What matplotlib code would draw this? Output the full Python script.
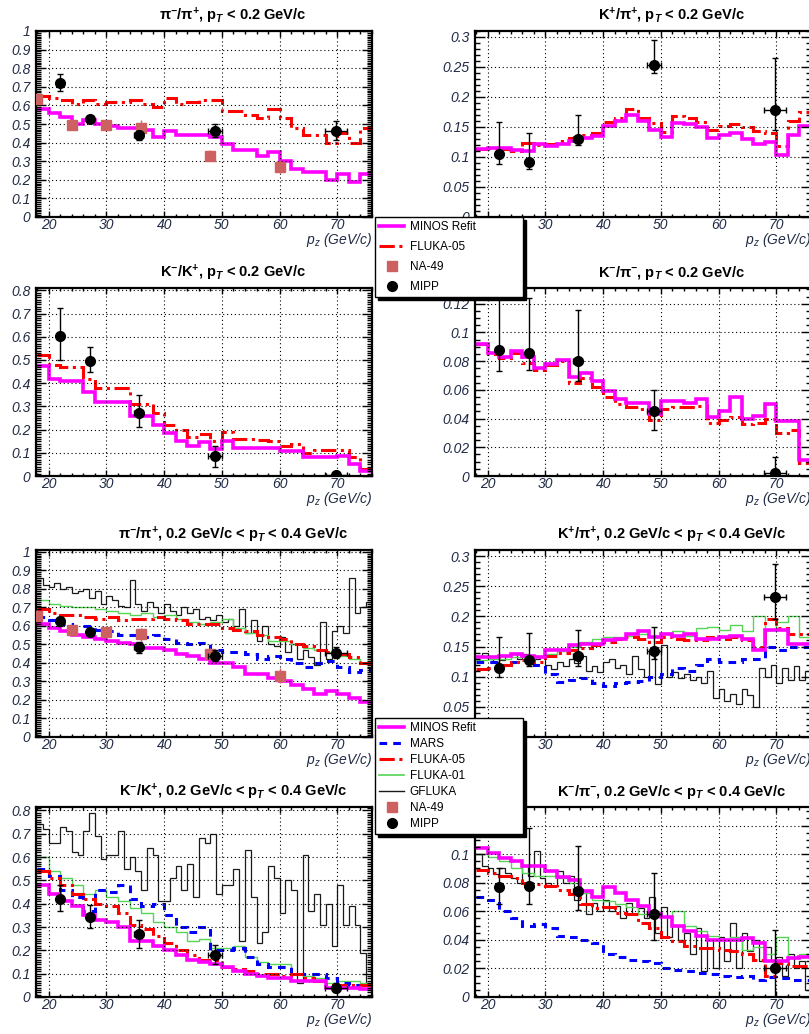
import numpy as np
import matplotlib
matplotlib.use('Agg')
import matplotlib.pyplot as plt
from matplotlib.ticker import MultipleLocator, AutoMinorLocator, FuncFormatter
from matplotlib.lines import Line2D

plt.rcParams['font.family'] = ['Liberation Sans', 'DejaVu Sans']
plt.rcParams['font.style'] = 'italic'
plt.rcParams['mathtext.fontset'] = 'custom'
plt.rcParams['mathtext.rm'] = 'Liberation Sans'
plt.rcParams['mathtext.it'] = 'Liberation Sans:italic'
plt.rcParams['mathtext.bf'] = 'Liberation Sans:bold'

# bin edges: 2 GeV/c bins for the fits, 1 GeV/c for GFLUKA
edges2 = np.arange(18, 78, 2)
edges1 = np.arange(18, 77, 1)

mipp_x = [22.0, 27.2, 35.6, 48.8, 69.7]
mipp_xerr = [0.4, 0.5, 0.8, 1.2, 1.9]
na49_x = [18, 24, 30, 36, 48, 60]

# ---- pi-/pi+, pT < 0.2
pipi_lo_minos = [0.58, 0.56, 0.54, 0.50, 0.52, 0.50, 0.49, 0.48, 0.48, 0.47,
                 0.43, 0.46, 0.44, 0.44, 0.44, 0.43, 0.39, 0.36, 0.36, 0.33,
                 0.35, 0.30, 0.26, 0.24, 0.24, 0.20, 0.23, 0.19, 0.23]
pipi_lo_fluka05 = [0.65, 0.64, 0.63, 0.61, 0.63, 0.61, 0.62, 0.62, 0.63, 0.61,
                   0.59, 0.64, 0.61, 0.62, 0.63, 0.63, 0.57, 0.57, 0.55, 0.53,
                   0.58, 0.53, 0.48, 0.44, 0.44, 0.40, 0.45, 0.40, 0.48]
pipi_lo_na49 = [0.635, 0.495, 0.495, 0.48, 0.33, 0.27]
pipi_lo_na49_err = [0.02, 0.015, 0.015, 0.04, 0.03, 0.035]
pipi_lo_mipp = [0.72, 0.525, 0.44, 0.46, 0.465]
pipi_lo_mipp_lo = [0.04, 0.02, 0.025, 0.03, 0.05]
pipi_lo_mipp_hi = [0.05, 0.02, 0.02, 0.04, 0.05]

# ---- K+/pi+, pT < 0.2
kpi_lo_minos = [0.113, 0.115, 0.115, 0.112, 0.110, 0.122, 0.118, 0.122, 0.127, 0.132,
                0.135, 0.152, 0.160, 0.170, 0.160, 0.145, 0.133, 0.157, 0.155, 0.150,
                0.132, 0.137, 0.140, 0.130, 0.122, 0.125, 0.103, 0.137, 0.152]
kpi_lo_fluka05 = [0.113, 0.115, 0.113, 0.110, 0.124, 0.120, 0.122, 0.127, 0.132, 0.137,
                  0.140, 0.158, 0.165, 0.180, 0.165, 0.157, 0.142, 0.168, 0.165, 0.158,
                  0.145, 0.152, 0.155, 0.150, 0.143, 0.140, 0.118, 0.160, 0.175]
kpi_lo_mipp = [0.105, 0.092, 0.130, 0.253, 0.178]
kpi_lo_mipp_lo = [0.017, 0.012, 0.010, 0.013, 0.033]
kpi_lo_mipp_hi = [0.053, 0.048, 0.040, 0.042, 0.087]

# ---- K-/K+, pT < 0.2
kk_lo_minos = [0.473, 0.42, 0.41, 0.41, 0.36, 0.32, 0.32, 0.32, 0.26, 0.26,
               0.22, 0.185, 0.15, 0.13, 0.145, 0.115, 0.15, 0.12, 0.12, 0.12,
               0.12, 0.108, 0.108, 0.08, 0.08, 0.08, 0.085, 0.05, 0.02]
kk_lo_fluka05 = [0.52, 0.48, 0.47, 0.47, 0.42, 0.38, 0.38, 0.38, 0.31, 0.31,
                 0.27, 0.22, 0.20, 0.17, 0.18, 0.15, 0.19, 0.16, 0.16, 0.155,
                 0.15, 0.13, 0.14, 0.10, 0.11, 0.11, 0.11, 0.08, 0.03]
kk_lo_mipp = [0.605, 0.495, 0.27, 0.085, 0.005]
kk_lo_mipp_lo = [0.105, 0.045, 0.06, 0.045, 0.005]
kk_lo_mipp_hi = [0.12, 0.06, 0.08, 0.045, 0.01]

# ---- K-/pi-, pT < 0.2
kmpi_lo_minos = [0.092, 0.086, 0.083, 0.087, 0.083, 0.075, 0.078, 0.081, 0.069, 0.072,
                 0.066, 0.059, 0.054, 0.051, 0.051, 0.043, 0.052, 0.052, 0.051, 0.054,
                 0.041, 0.045, 0.055, 0.040, 0.042, 0.050, 0.038, 0.038, 0.011]
kmpi_lo_fluka05 = [0.092, 0.085, 0.082, 0.086, 0.079, 0.074, 0.077, 0.080, 0.065, 0.068,
                   0.062, 0.055, 0.050, 0.048, 0.047, 0.039, 0.047, 0.048, 0.048, 0.049,
                   0.037, 0.039, 0.041, 0.036, 0.037, 0.040, 0.030, 0.032, 0.009]
kmpi_lo_mipp = [0.088, 0.086, 0.080, 0.045, 0.002]
kmpi_lo_mipp_lo = [0.015, 0.012, 0.014, 0.013, 0.002]
kmpi_lo_mipp_hi = [0.037, 0.038, 0.036, 0.015, 0.011]

# ---- pi-/pi+, 0.2 < pT < 0.4
pipi_hi_minos = [0.61, 0.59, 0.57, 0.55, 0.54, 0.53, 0.52, 0.51, 0.50, 0.48,
                 0.48, 0.47, 0.45, 0.44, 0.42, 0.40, 0.40, 0.38, 0.34, 0.34,
                 0.32, 0.30, 0.28, 0.26, 0.23, 0.25, 0.23, 0.21, 0.19]
pipi_hi_fluka05 = [0.69, 0.67, 0.66, 0.66, 0.65, 0.64, 0.65, 0.63, 0.64, 0.64,
                   0.65, 0.64, 0.63, 0.61, 0.61, 0.61, 0.59, 0.58, 0.57, 0.55,
                   0.54, 0.53, 0.50, 0.49, 0.47, 0.46, 0.45, 0.43, 0.40]
pipi_hi_mars = [0.65, 0.63, 0.61, 0.60, 0.60, 0.58, 0.57, 0.55, 0.55, 0.54,
                0.55, 0.53, 0.51, 0.50, 0.51, 0.47, 0.46, 0.46, 0.45, 0.42,
                0.44, 0.42, 0.40, 0.38, 0.40, 0.41, 0.38, 0.35, 0.36]
pipi_hi_fluka01 = [0.74, 0.72, 0.71, 0.70, 0.70, 0.69, 0.68, 0.67, 0.66, 0.67,
                   0.65, 0.66, 0.64, 0.62, 0.61, 0.62, 0.64, 0.59, 0.56, 0.55,
                   0.52, 0.52, 0.50, 0.48, 0.47, 0.46, 0.44, 0.42, 0.40]
pipi_hi_gfluka = [0.86, 0.82, 0.81, 0.83, 0.80, 0.81, 0.78, 0.79, 0.80, 0.75,
                  0.79, 0.72, 0.76, 0.74, 0.71, 0.70, 0.85, 0.72, 0.68, 0.73,
                  0.70, 0.67, 0.72, 0.68, 0.66, 0.70, 0.67, 0.69, 0.64, 0.65,
                  0.63, 0.66, 0.62, 0.64, 0.60, 0.69, 0.56, 0.63, 0.52, 0.60,
                  0.50, 0.49, 0.54, 0.46, 0.50, 0.42, 0.47, 0.43, 0.39, 0.62,
                  0.42, 0.57, 0.60, 0.56, 0.86, 0.67, 0.70, 0.73]
pipi_hi_na49 = [0.655, 0.58, 0.565, 0.555, 0.45, 0.33]
pipi_hi_na49_err = [0.02, 0.015, 0.015, 0.035, 0.03, 0.04]
pipi_hi_mipp = [0.625, 0.565, 0.485, 0.44, 0.455]
pipi_hi_mipp_lo = [0.025, 0.02, 0.03, 0.03, 0.03]
pipi_hi_mipp_hi = [0.025, 0.02, 0.03, 0.03, 0.03]

# ---- K+/pi+, 0.2 < pT < 0.4
kpi_hi_minos = [0.133, 0.133, 0.135, 0.137, 0.135, 0.133, 0.145, 0.145, 0.152, 0.155,
                0.155, 0.160, 0.163, 0.170, 0.175, 0.165, 0.170, 0.168, 0.170, 0.162,
                0.162, 0.165, 0.168, 0.162, 0.145, 0.178, 0.178, 0.155, 0.155]
kpi_hi_fluka05 = [0.112, 0.115, 0.120, 0.125, 0.128, 0.125, 0.135, 0.140, 0.145, 0.148,
                  0.152, 0.158, 0.162, 0.165, 0.162, 0.158, 0.165, 0.162, 0.160, 0.160,
                  0.165, 0.162, 0.165, 0.160, 0.150, 0.195, 0.180, 0.170, 0.170]
kpi_hi_mars = [0.125, 0.125, 0.120, 0.125, 0.128, 0.120, 0.105, 0.092, 0.095, 0.098,
               0.090, 0.085, 0.090, 0.092, 0.093, 0.100, 0.105, 0.115, 0.110, 0.120,
               0.130, 0.125, 0.125, 0.130, 0.130, 0.150, 0.145, 0.150, 0.150]
kpi_hi_fluka01 = [0.128, 0.130, 0.130, 0.132, 0.133, 0.135, 0.137, 0.142, 0.150, 0.158,
                  0.162, 0.165, 0.165, 0.168, 0.170, 0.168, 0.172, 0.175, 0.168, 0.180,
                  0.182, 0.178, 0.185, 0.175, 0.200, 0.178, 0.190, 0.200, 0.165]
kpi_hi_gfluka = [0.135, 0.140, 0.130, 0.125, 0.128, 0.135, 0.140, 0.130, 0.138, 0.125,
                 0.130, 0.135, 0.120, 0.112, 0.125, 0.118, 0.130, 0.122, 0.135, 0.110,
                 0.118, 0.108, 0.125, 0.130, 0.115, 0.120, 0.105, 0.135, 0.112, 0.100,
                 0.145, 0.088, 0.152, 0.100, 0.108, 0.098, 0.105, 0.095, 0.100, 0.090,
                 0.110, 0.065, 0.080, 0.060, 0.072, 0.055, 0.080, 0.070, 0.050, 0.115,
                 0.100, 0.120, 0.090, 0.115, 0.095, 0.118, 0.095, 0.110]
kpi_hi_mipp = [0.115, 0.128, 0.134, 0.143, 0.232]
kpi_hi_mipp_lo = [0.015, 0.010, 0.016, 0.013, 0.037]
kpi_hi_mipp_hi = [0.050, 0.045, 0.044, 0.040, 0.055]

# ---- K-/K+, 0.2 < pT < 0.4
kk_hi_minos = [0.48, 0.44, 0.41, 0.39, 0.35, 0.33, 0.32, 0.30, 0.24, 0.24,
               0.22, 0.20, 0.18, 0.16, 0.15, 0.14, 0.13, 0.11, 0.10, 0.09,
               0.08, 0.08, 0.07, 0.07, 0.07, 0.04, 0.04, 0.04, 0.035]
kk_hi_fluka05 = [0.54, 0.51, 0.48, 0.44, 0.42, 0.40, 0.39, 0.36, 0.31, 0.29,
                 0.26, 0.23, 0.20, 0.18, 0.16, 0.16, 0.13, 0.12, 0.11, 0.10,
                 0.10, 0.09, 0.10, 0.08, 0.07, 0.05, 0.05, 0.05, 0.05]
kk_hi_mars = [0.55, 0.52, 0.46, 0.43, 0.37, 0.46, 0.45, 0.48, 0.42, 0.39,
              0.40, 0.35, 0.30, 0.28, 0.30, 0.20, 0.20, 0.21, 0.17, 0.14,
              0.13, 0.13, 0.10, 0.10, 0.10, 0.08, 0.06, 0.05, 0.05]
kk_hi_fluka01 = [0.60, 0.54, 0.51, 0.48, 0.44, 0.46, 0.43, 0.41, 0.38, 0.36,
                 0.32, 0.30, 0.28, 0.24, 0.25, 0.21, 0.21, 0.22, 0.17, 0.15,
                 0.14, 0.14, 0.10, 0.09, 0.08, 0.06, 0.07, 0.07, 0.06]
kk_hi_gfluka = [0.74, 0.72, 0.66, 0.66, 0.73, 0.71, 0.62, 0.61, 0.71, 0.79,
                0.69, 0.59, 0.61, 0.61, 0.71, 0.55, 0.60, 0.54, 0.46, 0.64,
                0.61, 0.41, 0.41, 0.51, 0.56, 0.46, 0.57, 0.43, 0.68, 0.66,
                0.70, 0.44, 0.48, 0.48, 0.55, 0.24, 0.63, 0.43, 0.23, 0.28,
                0.56, 0.51, 0.36, 0.50, 0.46, 0.06, 0.61, 0.37, 0.44, 0.31,
                0.40, 0.22, 0.48, 0.31, 0.39, 0.31, 0.19, 0.06]
kk_hi_mipp = [0.42, 0.345, 0.27, 0.18, 0.04]
kk_hi_mipp_lo = [0.05, 0.05, 0.06, 0.04, 0.02]
kk_hi_mipp_hi = [0.06, 0.05, 0.06, 0.045, 0.02]

# ---- K-/pi-, 0.2 < pT < 0.4
kmpi_hi_minos = [0.104, 0.101, 0.097, 0.095, 0.092, 0.092, 0.088, 0.084, 0.082, 0.074,
                 0.070, 0.077, 0.073, 0.068, 0.064, 0.058, 0.056, 0.050, 0.046, 0.043,
                 0.040, 0.040, 0.040, 0.041, 0.038, 0.025, 0.025, 0.027, 0.028]
kmpi_hi_fluka05 = [0.089, 0.087, 0.085, 0.083, 0.080, 0.079, 0.078, 0.075, 0.072, 0.065,
                   0.062, 0.063, 0.059, 0.058, 0.052, 0.048, 0.042, 0.039, 0.036, 0.034,
                   0.034, 0.033, 0.032, 0.030, 0.026, 0.015, 0.024, 0.022, 0.022]
kmpi_hi_mars = [0.070, 0.068, 0.060, 0.055, 0.050, 0.051, 0.048, 0.043, 0.042, 0.040,
                0.038, 0.030, 0.028, 0.026, 0.025, 0.024, 0.020, 0.019, 0.018, 0.017,
                0.016, 0.015, 0.014, 0.015, 0.012, 0.014, 0.013, 0.012, 0.012]
kmpi_hi_fluka01 = [0.100, 0.098, 0.095, 0.090, 0.087, 0.085, 0.085, 0.083, 0.080, 0.073,
                   0.068, 0.067, 0.065, 0.063, 0.058, 0.058, 0.056, 0.060, 0.050, 0.046,
                   0.043, 0.040, 0.042, 0.033, 0.035, 0.030, 0.042, 0.028, 0.030]
kmpi_hi_gfluka = [0.100, 0.092, 0.090, 0.086, 0.090, 0.087, 0.083, 0.080, 0.092, 0.085,
                  0.102, 0.083, 0.080, 0.078, 0.088, 0.080, 0.085, 0.068, 0.075, 0.058,
                  0.066, 0.060, 0.068, 0.060, 0.064, 0.055, 0.066, 0.058, 0.062, 0.055,
                  0.070, 0.045, 0.063, 0.042, 0.050, 0.040, 0.045, 0.030, 0.048, 0.018,
                  0.040, 0.020, 0.042, 0.025, 0.052, 0.020, 0.045, 0.032, 0.040, 0.025,
                  0.035, 0.025, 0.028, 0.015, 0.030, 0.020, 0.025, 0.005]
kmpi_hi_mipp = [0.077, 0.078, 0.074, 0.058, 0.020]
kmpi_hi_mipp_lo = [0.012, 0.013, 0.013, 0.018, 0.020]
kmpi_hi_mipp_hi = [0.013, 0.040, 0.032, 0.029, 0.027]

MAGENTA = '#ff00ff'
RED = '#ff0000'
BLUE = '#0000ff'
GREEN = '#55d455'
NA49_C = '#cd6060'
TICK_C = '#1f2a44'

W, H = 809, 1034
fig = plt.figure(figsize=(W / 100, H / 100), dpi=100)

cols = [(36, 372), (475, 811)]
rows = [(31, 217), (288, 476), (550, 737), (807, 997)]


def make_ax(col, row):
    l, r = cols[col]
    t, b = rows[row]
    ax = fig.add_axes([l / W, 1 - b / H, (r - l) / W, (b - t) / H])
    return ax


def style(ax, ytop, ystep, nminor, title):
    ax.set_xlim(17.8, 76.0)
    ax.set_ylim(0, ytop)
    ax.xaxis.set_major_locator(MultipleLocator(10))
    ax.xaxis.set_minor_locator(MultipleLocator(2))
    ax.yaxis.set_major_locator(MultipleLocator(ystep))
    ax.yaxis.set_minor_locator(AutoMinorLocator(nminor))
    ax.yaxis.set_major_formatter(FuncFormatter(lambda v, p: '%g' % round(v, 4)))
    ax.tick_params(which='both', direction='in', top=True, right=True,
                   labelsize=10, labelcolor=TICK_C, width=1)
    ax.tick_params(axis='x', which='major', length=4, pad=1)
    ax.tick_params(axis='x', which='minor', length=2)
    ax.tick_params(axis='y', which='major', length=7, pad=4)
    ax.tick_params(axis='y', which='minor', length=3.5)
    ax.grid(True, which='major', color='black', linestyle=(0, (1, 2.5)), linewidth=0.8)
    for s in ax.spines.values():
        s.set_linewidth(1.6)
    ax.annotate(title, xy=(0.586, 1), xycoords='axes fraction', xytext=(0, 8),
                textcoords='offset points', ha='center', va='baseline',
                fontsize=10.5, weight='bold', style='normal')
    ax.annotate(r'$p_{z}$ (GeV/c)', xy=(1, 0), xycoords='axes fraction',
                xytext=(0, -19.5), textcoords='offset points', ha='right',
                va='baseline', fontsize=10, color=TICK_C)


def draw_models(ax, minos, fluka05, mars=None, fluka01=None, gfluka=None):
    if gfluka is not None:
        ax.stairs(gfluka, edges1, baseline=None, color='#1a1a1a', lw=0.9)
    if fluka01 is not None:
        ax.stairs(fluka01, edges2, baseline=None, color=GREEN, lw=1.0)
    if mars is not None:
        ax.stairs(mars, edges2, baseline=None, color=BLUE, lw=2.2, ls=(0, (2.5, 2)))
    ax.stairs(fluka05, edges2, baseline=None, color=RED, lw=2.2, ls=(0, (5, 1.5, 1, 1.5)))
    ax.stairs(minos, edges2, baseline=None, color=MAGENTA, lw=2.6)


def draw_na49(ax, y, err):
    ax.errorbar(na49_x, y, yerr=err, fmt='s', color=NA49_C, ms=7,
                elinewidth=1, capsize=0, zorder=4)


def draw_mipp(ax, y, lo, hi):
    ax.errorbar(mipp_x, y, yerr=[lo, hi], xerr=mipp_xerr, fmt='o', color='black',
                ms=7, elinewidth=1, capsize=2, zorder=5)


pip = r'π$^{\mathbf{-}}$/π$^{\mathbf{+}}$'
kpp = r'K$^{\mathbf{+}}$/π$^{\mathbf{+}}$'
kmk = r'K$^{\mathbf{-}}$/K$^{\mathbf{+}}$'
kmm = r'K$^{\mathbf{-}}$/π$^{\mathbf{-}}$'
lo_cut = r', p$_{\mathbf{T}}$ < 0.2 GeV/c'
hi_cut = r', 0.2 GeV/c < p$_{\mathbf{T}}$ < 0.4 GeV/c'

# row 1
ax = make_ax(0, 0)
draw_models(ax, pipi_lo_minos, pipi_lo_fluka05)
draw_na49(ax, pipi_lo_na49, pipi_lo_na49_err)
draw_mipp(ax, pipi_lo_mipp, pipi_lo_mipp_lo, pipi_lo_mipp_hi)
style(ax, 1.0, 0.1, 10, pip + lo_cut)

ax = make_ax(1, 0)
draw_models(ax, kpi_lo_minos, kpi_lo_fluka05)
draw_mipp(ax, kpi_lo_mipp, kpi_lo_mipp_lo, kpi_lo_mipp_hi)
style(ax, 0.31, 0.05, 5, kpp + lo_cut)

# row 2
ax = make_ax(0, 1)
draw_models(ax, kk_lo_minos, kk_lo_fluka05)
draw_mipp(ax, kk_lo_mipp, kk_lo_mipp_lo, kk_lo_mipp_hi)
style(ax, 0.81, 0.1, 10, kmk + lo_cut)

ax = make_ax(1, 1)
draw_models(ax, kmpi_lo_minos, kmpi_lo_fluka05)
draw_mipp(ax, kmpi_lo_mipp, kmpi_lo_mipp_lo, kmpi_lo_mipp_hi)
style(ax, 0.131, 0.02, 4, kmm + lo_cut)

# row 3
ax = make_ax(0, 2)
draw_models(ax, pipi_hi_minos, pipi_hi_fluka05, pipi_hi_mars, pipi_hi_fluka01, pipi_hi_gfluka)
draw_na49(ax, pipi_hi_na49, pipi_hi_na49_err)
draw_mipp(ax, pipi_hi_mipp, pipi_hi_mipp_lo, pipi_hi_mipp_hi)
style(ax, 1.01, 0.1, 10, pip + hi_cut)

ax = make_ax(1, 2)
draw_models(ax, kpi_hi_minos, kpi_hi_fluka05, kpi_hi_mars, kpi_hi_fluka01, kpi_hi_gfluka)
draw_mipp(ax, kpi_hi_mipp, kpi_hi_mipp_lo, kpi_hi_mipp_hi)
style(ax, 0.31, 0.05, 5, kpp + hi_cut)

# row 4
ax = make_ax(0, 3)
draw_models(ax, kk_hi_minos, kk_hi_fluka05, kk_hi_mars, kk_hi_fluka01, kk_hi_gfluka)
draw_mipp(ax, kk_hi_mipp, kk_hi_mipp_lo, kk_hi_mipp_hi)
style(ax, 0.815, 0.1, 10, kmk + hi_cut)

ax = make_ax(1, 3)
draw_models(ax, kmpi_hi_minos, kmpi_hi_fluka05, kmpi_hi_mars, kmpi_hi_fluka01, kmpi_hi_gfluka)
draw_mipp(ax, kmpi_hi_mipp, kmpi_hi_mipp_lo, kmpi_hi_mipp_hi)
style(ax, 0.133, 0.02, 4, kmm + hi_cut)

# legends
h_minos = Line2D([], [], color=MAGENTA, lw=2.6)
h_mars = Line2D([], [], color=BLUE, lw=2.2, ls=(0, (2.5, 2)))
h_f05 = Line2D([], [], color=RED, lw=2.2, ls=(0, (5, 1.5, 1, 1.5)))
h_f01 = Line2D([], [], color=GREEN, lw=1.2)
h_gfl = Line2D([], [], color='#1a1a1a', lw=1.0)
h_na49 = Line2D([], [], marker='s', ls='none', color=NA49_C, ms=7)
h_mipp = Line2D([], [], marker='o', ls='none', color='black', ms=7)

leg_kw = dict(loc='upper left', mode='expand', borderaxespad=0, fancybox=False,
              edgecolor='black', framealpha=1, handlelength=2.1, handletextpad=0.5,
              borderpad=0.35,
              prop={'family': 'Liberation Sans', 'style': 'normal', 'size': 8.5},
              shadow={'facecolor': 'black', 'edgecolor': 'black', 'alpha': 1})

leg1 = fig.legend([h_minos, h_f05, h_na49, h_mipp],
                  ['MINOS Refit', 'FLUKA-05', 'NA-49', 'MIPP'],
                  bbox_to_anchor=(375 / W, 1 - 298 / H, 148 / W, 81 / H),
                  labelspacing=0.68, **leg_kw)
leg1.get_frame().set_linewidth(1.0)

leg2 = fig.legend([h_minos, h_mars, h_f05, h_f01, h_gfl, h_na49, h_mipp],
                  ['MINOS Refit', 'MARS', 'FLUKA-05', 'FLUKA-01', 'GFLUKA', 'NA-49', 'MIPP'],
                  bbox_to_anchor=(375 / W, 1 - 836 / H, 148 / W, 118 / H),
                  labelspacing=0.34, **leg_kw)
leg2.get_frame().set_linewidth(1.0)

fig.savefig('out.png', dpi=100, facecolor='white')
